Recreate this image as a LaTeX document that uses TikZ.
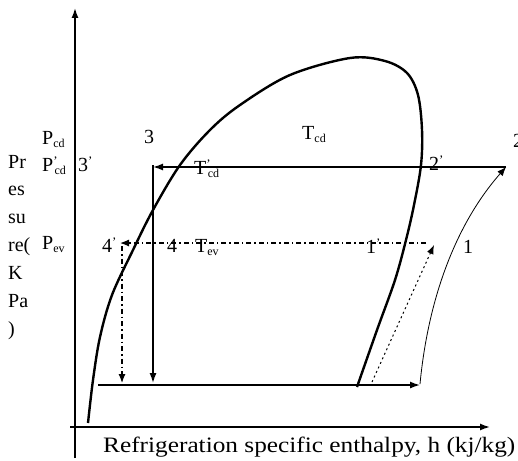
\documentclass[tikz,border=0pt]{standalone}
\usepackage{fontspec}
\setmainfont{Liberation Serif}
\usetikzlibrary{arrows.meta}
\newcommand{\sbs}[1]{\raisebox{-0.35ex}{\fontsize{12}{12}\selectfont #1}}
\newcommand{\prm}{\raisebox{0.55ex}{\fontsize{13}{13}\selectfont '}}
\begin{document}
\begin{tikzpicture}[x=1pt,y=-1pt,
  lbl/.style={font=\fontsize{20}{20}\selectfont, inner sep=0pt, anchor=base west},
  axis/.style={line width=1.5pt, -{Latex[length=10pt,width=7pt]}},
  cyc/.style={line width=1.4pt, -{Latex[length=10pt,width=7pt]}},
  dome/.style={line width=2.4pt},
  dd/.style={line width=1.2pt, dash pattern=on 5pt off 3pt on 1.5pt off 3pt, -{Latex[length=9pt,width=7pt]}},
  thin/.style={line width=0.8pt, -{Latex[length=9pt,width=7pt]}},
  dotarr/.style={line width=1pt, dash pattern=on 2pt off 3pt, -{Latex[length=9pt,width=7pt]}}]
\useasboundingbox[fill=white] (0,0) rectangle (518,460);
% axes
\coordinate (ytop) at (75,8);
\coordinate (ybot) at (75,458);
\coordinate (xl) at (70,427);
\coordinate (xr) at (490,427);
\draw[axis] (ybot) -- (ytop);
\draw[axis] (xl) -- (xr);
% saturation dome
\draw[dome] plot[smooth, tension=0.55] coordinates {(88,423) (93,380) (100,337) (112,295) (133,250) (153,210) (180,165) (210,130) (240,105) (290,75) (350,58) (385,61) (407,73) (418,95) (422,130) (421,165) (414,205) (406,240) (395,280) (377,330) (357,387)};
% cycle points
\coordinate (p2) at (506,167);
\coordinate (p3) at (153,167);
\coordinate (p3b) at (153,165);
\coordinate (p4) at (153,383);
\coordinate (b0) at (98,385);
\coordinate (b1) at (420,385);
\coordinate (c1) at (420,384);
\coordinate (d0) at (372,382);
\coordinate (d1) at (434,245);
\coordinate (e0) at (426,243);
\coordinate (e1) at (120,243);
\coordinate (f0) at (122,246);
\coordinate (f1) at (122,383);
\draw[cyc] (p2) -- (p3);
\draw[cyc] (p3b) -- (p4);
\draw[cyc] (b0) -- (b1);
\draw[thin] (c1) .. controls (428,300) and (455,225) .. (p2);
\draw[dotarr] (d0) -- (d1);
\draw[dd] (e0) -- (e1);
\draw[dd] (f0) -- (f1);
% y label
\foreach \t [count=\i from 0] in {Pr,es,su,re(,K,Pa,)}
  \node[lbl] (yl\i) at (8,{168+27.9*\i}) {\t};
% labels
\node[lbl] (pcd) at (42,144) {P\sbs{cd}};
\node[lbl] (pcdp) at (42,171) {P\prm\kern-3pt\sbs{cd}};
\node[lbl] (l3p) at (78,171) {3\prm};
\node[lbl] (pev) at (42,249) {P\sbs{ev}};
\node[lbl] (l3) at (144,143) {3};
\node[lbl] (tcd) at (302,139) {T\sbs{cd}};
\node[lbl] (tcdp) at (194,174) {T\prm\kern-3pt\sbs{cd}};
\node[lbl] (l2p) at (429,170) {2\prm};
\node[lbl] (l2) at (513,147) {2};
\node[lbl] (l4p) at (102,252) {4\prm};
\node[lbl] (l4) at (167,252) {4};
\node[lbl] (tev) at (195,252) {T\sbs{ev}};
\node[lbl] (l1p) at (366,253) {1\prm};
\node[lbl] (l1) at (463,253) {1};
\node[inner sep=0pt, anchor=base west, font=\fontsize{22}{22}\selectfont] (xlab) at (103,452) {\scalebox{1.15}[1]{Refrigeration specific enthalpy, h (kj/kg)}};
\end{tikzpicture}
\end{document}
